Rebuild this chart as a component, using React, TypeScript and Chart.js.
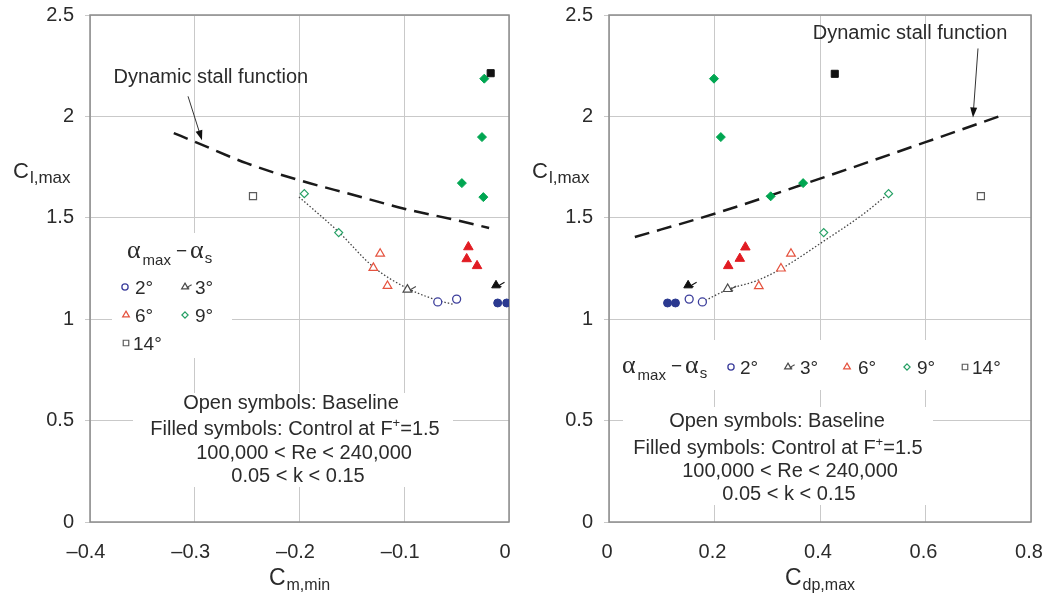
import React, { useEffect, useRef } from 'react';
import { Chart, registerables } from 'chart.js';

Chart.register(...registerables);

const SANS = "'Liberation Sans', Arial, Helvetica, sans-serif";
const SERIF = "'Liberation Serif', 'Times New Roman', serif";
const TEXT = '#2b2b2b';
const GRID = '#c9c9c9';

// ---------------- Left panel: C_l,max vs C_m,min ----------------
const cmTicksX = [-0.4, -0.3, -0.2, -0.1, 0];
const clTicksY = [0, 0.5, 1, 1.5, 2, 2.5];

const cmOpen2X = [-0.068, -0.05];
const cmOpen2Y = [1.085, 1.099];
const cmOpen3X = [-0.097];
const cmOpen3Y = [1.146];
const cmOpen6X = [-0.123, -0.1295, -0.116];
const cmOpen6Y = [1.323, 1.253, 1.164];
const cmOpen9X = [-0.1954, -0.1626];
const cmOpen9Y = [1.619, 1.427];
const cmOpen14X = [-0.2444];
const cmOpen14Y = [1.607];
const cmFill2X = [-0.0108, -0.0022];
const cmFill2Y = [1.08, 1.08];
const cmFill3X = [-0.0124];
const cmFill3Y = [1.167];
const cmFill6X = [-0.0388, -0.0404, -0.0305];
const cmFill6Y = [1.356, 1.297, 1.263];
const cmFill9X = [-0.0236, -0.0258, -0.045, -0.0245];
const cmFill9Y = [2.186, 1.898, 1.671, 1.602];
const cmFill14X = [-0.0175];
const cmFill14Y = [2.213];
const cmStallX = [-0.32, -0.3, -0.25, -0.2, -0.15, -0.1, -0.05, -0.019];
const cmStallY = [1.918, 1.875, 1.768, 1.685, 1.615, 1.545, 1.488, 1.45];
const cmBaseX = [-0.2005, -0.1626, -0.1295, -0.097, -0.068, -0.0537];
const cmBaseY = [1.603, 1.43, 1.258, 1.152, 1.093, 1.074];

// ---------------- Right panel: C_l,max vs C_dp,max ----------------
const cdTicksX = [0, 0.2, 0.4, 0.6, 0.8];

const cdOpen2X = [0.152, 0.177];
const cdOpen2Y = [1.099, 1.085];
const cdOpen3X = [0.225];
const cdOpen3Y = [1.149];
const cdOpen6X = [0.345, 0.326, 0.284];
const cdOpen6Y = [1.323, 1.25, 1.163];
const cdOpen9X = [0.407, 0.53];
const cdOpen9Y = [1.427, 1.619];
const cdOpen14X = [0.705];
const cdOpen14Y = [1.607];
const cdFill2X = [0.111, 0.126];
const cdFill2Y = [1.08, 1.08];
const cdFill3X = [0.15];
const cdFill3Y = [1.167];
const cdFill6X = [0.226, 0.248, 0.2585];
const cdFill6Y = [1.263, 1.299, 1.355];
const cdFill9X = [0.199, 0.212, 0.3065, 0.368];
const cdFill9Y = [2.186, 1.898, 1.606, 1.671];
const cdFill14X = [0.428];
const cdFill14Y = [2.21];
const cdStallX = [0.049, 0.2, 0.4, 0.6, 0.75];
const cdStallY = [1.405, 1.52, 1.693, 1.873, 2.01];
const cdBaseX = [0.177, 0.225, 0.28, 0.326, 0.41, 0.483, 0.53];
const cdBaseY = [1.085, 1.146, 1.19, 1.248, 1.39, 1.52, 1.619];

const legendLabels = ['2°', '3°', '6°', '9°', '14°'];

type MStyle = { shape: string; r: number; stroke: string; fill: string; bw: number; tail?: boolean };
const MK: Record<string, MStyle> = {
  o2: { shape: 'circle', r: 4, stroke: '#3d3f9c', fill: '#ffffff', bw: 1.3 },
  o3: { shape: 'triangle', r: 5, stroke: '#4a4a4a', fill: '#ffffff', bw: 1.2, tail: true },
  o6: { shape: 'triangle', r: 5, stroke: '#e5533f', fill: '#ffffff', bw: 1.2 },
  o9: { shape: 'rectRot', r: 4, stroke: '#26a065', fill: '#ffffff', bw: 1.2 },
  o14: { shape: 'rect', r: 5, stroke: '#5c5c5c', fill: '#ffffff', bw: 1.2 },
  f2: { shape: 'circle', r: 4, stroke: '#2b3990', fill: '#2b3990', bw: 1 },
  f3: { shape: 'triangle', r: 5, stroke: '#111111', fill: '#111111', bw: 1, tail: true },
  f6: { shape: 'triangle', r: 5.5, stroke: '#e11b22', fill: '#e11b22', bw: 1 },
  f9: { shape: 'rectRot', r: 4.5, stroke: '#00a651', fill: '#00a651', bw: 1 },
  f14: { shape: 'rect', r: 5, stroke: '#111111', fill: '#111111', bw: 1 },
};

const fmt = (v: number) => (v < 0 ? '–' : '') + String(Math.round(Math.abs(v) * 100) / 100);

function pts(xs: number[], ys: number[]) {
  return xs.map((x, i) => ({ x, y: ys[i] }));
}

function markerDs(xs: number[], ys: number[], key: string) {
  const s = MK[key];
  return {
    data: pts(xs, ys),
    showLine: false,
    pointStyle: s.shape,
    pointRadius: s.r,
    pointHoverRadius: s.r,
    pointBorderWidth: s.bw,
    pointBorderColor: s.stroke,
    pointBackgroundColor: s.fill,
    borderColor: s.stroke,
    backgroundColor: s.fill,
    order: 0,
    _mk: key,
  };
}

function lineDs(xs: number[], ys: number[], dash: number[], width: number, color: string) {
  return {
    data: pts(xs, ys),
    showLine: true,
    pointRadius: 0,
    pointHoverRadius: 0,
    borderColor: color,
    borderWidth: width,
    borderDash: dash,
    cubicInterpolationMode: 'monotone',
    fill: false,
    order: 10,
  };
}

type Seg = { t: string; font: string; dy?: number; gap?: number };

function rich(ctx: CanvasRenderingContext2D, segs: Seg[], x: number, y: number, align: 'left' | 'center' = 'left') {
  ctx.save();
  ctx.fillStyle = TEXT;
  ctx.textBaseline = 'alphabetic';
  ctx.textAlign = 'left';
  const widths = segs.map((s) => {
    ctx.font = s.font;
    return ctx.measureText(s.t).width + (s.gap || 0);
  });
  const total = widths.reduce((a, b) => a + b, 0);
  let cx = align === 'center' ? x - total / 2 : x;
  segs.forEach((s, i) => {
    ctx.font = s.font;
    ctx.fillText(s.t, cx + (s.gap || 0), y + (s.dy || 0));
    cx += widths[i];
  });
  ctx.restore();
}

function drawMarker(ctx: CanvasRenderingContext2D, s: MStyle, x: number, y: number, r: number) {
  ctx.save();
  ctx.beginPath();
  if (s.shape === 'circle') {
    ctx.arc(x, y, r, 0, Math.PI * 2);
  } else if (s.shape === 'triangle') {
    ctx.moveTo(x, y - r);
    ctx.lineTo(x + 0.866 * r, y + 0.5 * r);
    ctx.lineTo(x - 0.866 * r, y + 0.5 * r);
    ctx.closePath();
  } else if (s.shape === 'rectRot') {
    ctx.moveTo(x, y - r);
    ctx.lineTo(x + r, y);
    ctx.lineTo(x, y + r);
    ctx.lineTo(x - r, y);
    ctx.closePath();
  } else {
    const h = r * Math.SQRT1_2;
    ctx.rect(x - h, y - h, 2 * h, 2 * h);
  }
  ctx.fillStyle = s.fill;
  ctx.fill();
  ctx.lineWidth = s.bw;
  ctx.strokeStyle = s.stroke;
  ctx.stroke();
  if (s.tail) drawTail(ctx, x, y, r, s.stroke);
  ctx.restore();
}

function drawTail(ctx: CanvasRenderingContext2D, x: number, y: number, r: number, color: string) {
  ctx.save();
  ctx.strokeStyle = color;
  ctx.lineWidth = 1.1;
  ctx.beginPath();
  ctx.moveTo(x + 0.5 * r, y + 0.1 * r);
  ctx.lineTo(x + 1.7 * r, y - 0.6 * r);
  ctx.moveTo(x + 0.5 * r, y + 0.1 * r);
  ctx.lineTo(x + 1.1 * r, y + 0.3 * r);
  ctx.stroke();
  ctx.restore();
}

function arrow(ctx: CanvasRenderingContext2D, x0: number, y0: number, x1: number, y1: number) {
  const ang = Math.atan2(y1 - y0, x1 - x0);
  const L = 10;
  const W = 3.5;
  ctx.save();
  ctx.strokeStyle = '#333';
  ctx.fillStyle = '#111';
  ctx.lineWidth = 1;
  ctx.beginPath();
  ctx.moveTo(x0, y0);
  ctx.lineTo(x1 - Math.cos(ang) * L * 0.8, y1 - Math.sin(ang) * L * 0.8);
  ctx.stroke();
  ctx.beginPath();
  ctx.moveTo(x1, y1);
  ctx.lineTo(x1 - Math.cos(ang) * L - Math.sin(ang) * W, y1 - Math.sin(ang) * L + Math.cos(ang) * W);
  ctx.lineTo(x1 - Math.cos(ang) * L + Math.sin(ang) * W, y1 - Math.sin(ang) * L - Math.cos(ang) * W);
  ctx.closePath();
  ctx.fill();
  ctx.restore();
}

type LegendItem = { key: string; label: string; dx: number; dy: number; tx: number };
type Panel = {
  boxes: number[][];
  xSub: string;
  stallText: [number, number];
  stallArrow: [number, number, number, number];
  legendTitle: [number, number];
  legendItems: LegendItem[];
  notes: [number, number][];
};

const notesText: Seg[][] = [
  [{ t: 'Open symbols: Baseline', font: `20px ${SANS}` }],
  [
    { t: 'Filled symbols: Control at F', font: `20px ${SANS}` },
    { t: '+', font: `13px ${SANS}`, dy: -8 },
    { t: '=1.5', font: `20px ${SANS}` },
  ],
  [{ t: '100,000 < Re < 240,000', font: `20px ${SANS}` }],
  [{ t: '0.05 < k < 0.15', font: `20px ${SANS}` }],
];

function decor(p: Panel) {
  return {
    id: 'decor',
    beforeDatasetsDraw(chart: any) {
      const { ctx, chartArea: a } = chart;
      ctx.save();
      ctx.fillStyle = '#ffffff';
      p.boxes.forEach((b) => ctx.fillRect(a.left + b[0], a.top + b[1], b[2], b[3]));
      ctx.strokeStyle = '#8c8c8c';
      ctx.lineWidth = 1.5;
      ctx.strokeRect(a.left, a.top, a.right - a.left, a.bottom - a.top);
      ctx.restore();
    },
    afterDatasetsDraw(chart: any) {
      const { ctx, chartArea: a, scales } = chart;
      const sx = (v: number) => scales.x.getPixelForValue(v);
      const sy = (v: number) => scales.y.getPixelForValue(v);

      // tails on 3-degree symbols
      chart.data.datasets.forEach((ds: any, i: number) => {
        const m = ds._mk && MK[ds._mk];
        if (!m || !m.tail) return;
        chart.getDatasetMeta(i).data.forEach((el: any) => drawTail(ctx, el.x, el.y, m.r, m.stroke));
      });

      // Dynamic stall function label + arrow
      ctx.save();
      ctx.font = `20px ${SANS}`;
      ctx.fillStyle = TEXT;
      ctx.textAlign = 'center';
      ctx.textBaseline = 'middle';
      ctx.fillText('Dynamic stall function', sx(p.stallText[0]), sy(p.stallText[1]));
      ctx.restore();
      const [ax0, ay0, ax1, ay1] = p.stallArrow;
      arrow(ctx, sx(ax0), sy(ay0), sx(ax1), sy(ay1));

      // Legend
      const [tx, ty] = p.legendTitle;
      rich(
        ctx,
        [
          { t: 'α', font: `26px ${SERIF}` },
          { t: 'max', font: `15px ${SANS}`, dy: 7, gap: 2 },
          { t: '−', font: `19px ${SANS}`, dy: -1, gap: 5 },
          { t: 'α', font: `26px ${SERIF}`, gap: 3 },
          { t: 's', font: `15px ${SANS}`, dy: 5, gap: 1 },
        ],
        a.left + tx,
        a.top + ty + 6
      );
      p.legendItems.forEach((it) => {
        const m = MK[it.key];
        drawMarker(ctx, m, a.left + it.dx, a.top + it.dy, m.r * 0.78);
        rich(ctx, [{ t: it.label, font: `19px ${SANS}` }], a.left + it.tx, a.top + it.dy + 6.5);
      });

      // Notes
      p.notes.forEach(([nx, ny], i) => rich(ctx, notesText[i], a.left + nx, a.top + ny + 7, 'center'));

      // Axis titles
      const cx = (a.left + a.right) / 2;
      rich(ctx, [{ t: 'C', font: `23px ${SANS}` }, { t: p.xSub, font: `16px ${SANS}`, dy: 5, gap: 1 }], cx, a.bottom + 63, 'center');
      rich(ctx, [{ t: 'C', font: `22px ${SANS}` }, { t: 'l,max', font: `17px ${SANS}`, dy: 5, gap: 1 }], a.left - 77, a.top + 163);
    },
  };
}

function makeConfig(
  markers: any[],
  lines: any[],
  xMin: number,
  xMax: number,
  xTicks: number[],
  padRight: number,
  yWidth: number,
  xLabelShift: number,
  panel: Panel
) {
  return {
    type: 'scatter' as const,
    data: { datasets: [...markers, ...lines] },
    options: {
      animation: false as const,
      responsive: false,
      maintainAspectRatio: false,
      events: [],
      layout: { padding: { left: 0, right: padRight, top: 15, bottom: 0 } },
      plugins: { legend: { display: false }, tooltip: { enabled: false } },
      scales: {
        x: {
          type: 'linear' as const,
          min: xMin,
          max: xMax,
          afterBuildTicks: (s: any) => {
            s.ticks = xTicks.map((value) => ({ value }));
          },
          ticks: {
            callback: (v: any) => fmt(Number(v)),
            font: { family: SANS, size: 20, lineHeight: 2.7 },
            color: TEXT,
            padding: 3,
            labelOffset: xLabelShift,
            maxRotation: 0,
            autoSkip: false,
          },
          grid: { color: GRID, lineWidth: 1, drawTicks: false, tickLength: 0 },
          border: { display: false },
          afterFit: (s: any) => {
            s.height = 74;
          },
        },
        y: {
          type: 'linear' as const,
          min: 0,
          max: 2.5,
          afterBuildTicks: (s: any) => {
            s.ticks = clTicksY.map((value) => ({ value }));
          },
          ticks: {
            callback: (v: any) => fmt(Number(v)),
            font: { family: SANS, size: 20, lineHeight: 0.3 },
            color: TEXT,
            padding: 11,
            autoSkip: false,
          },
          grid: { color: GRID, lineWidth: 1, drawTicks: true, tickLength: 5 },
          border: { display: false },
          afterFit: (s: any) => {
            s.width = yWidth;
          },
        },
      },
    },
    plugins: [decor(panel)],
  };
}

const leftPanel: Panel = {
  boxes: [
    [22, 218, 120, 125],
    [43, 378, 320, 94],
  ],
  xSub: 'm,min',
  stallText: [-0.2846, 2.192],
  stallArrow: [-0.3064, 2.099, -0.2931, 1.882],
  legendTitle: [37, 237],
  legendItems: [
    { key: 'o2', label: legendLabels[0], dx: 35, dy: 272, tx: 45 },
    { key: 'o3', label: legendLabels[1], dx: 95, dy: 272, tx: 105 },
    { key: 'o6', label: legendLabels[2], dx: 36, dy: 300, tx: 45 },
    { key: 'o9', label: legendLabels[3], dx: 95, dy: 300, tx: 105 },
    { key: 'o14', label: legendLabels[4], dx: 36, dy: 328, tx: 43 },
  ],
  notes: [
    [201, 387],
    [205, 413],
    [214, 437],
    [208, 460],
  ],
};

const rightPanel: Panel = {
  boxes: [
    [3, 325, 408, 50],
    [14, 392, 310, 98],
  ],
  xSub: 'dp,max',
  stallText: [0.5706, 2.409],
  stallArrow: [0.6995, 2.335, 0.69, 1.995],
  legendTitle: [13, 352],
  legendItems: [
    { key: 'o2', label: legendLabels[0], dx: 122, dy: 352, tx: 131 },
    { key: 'o3', label: legendLabels[1], dx: 179, dy: 352, tx: 191 },
    { key: 'o6', label: legendLabels[2], dx: 238, dy: 352, tx: 249 },
    { key: 'o9', label: legendLabels[3], dx: 298, dy: 352, tx: 308 },
    { key: 'o14', label: legendLabels[4], dx: 356, dy: 352, tx: 363 },
  ],
  notes: [
    [168, 405],
    [169, 432],
    [181, 455],
    [180, 478],
  ],
};

const leftConfig = () =>
  makeConfig(
    [
      markerDs(cmOpen2X, cmOpen2Y, 'o2'),
      markerDs(cmOpen3X, cmOpen3Y, 'o3'),
      markerDs(cmOpen6X, cmOpen6Y, 'o6'),
      markerDs(cmOpen9X, cmOpen9Y, 'o9'),
      markerDs(cmOpen14X, cmOpen14Y, 'o14'),
      markerDs(cmFill2X, cmFill2Y, 'f2'),
      markerDs(cmFill3X, cmFill3Y, 'f3'),
      markerDs(cmFill6X, cmFill6Y, 'f6'),
      markerDs(cmFill9X, cmFill9Y, 'f9'),
      markerDs(cmFill14X, cmFill14Y, 'f14'),
    ],
    [lineDs(cmStallX, cmStallY, [15, 8], 2.5, '#1a1a1a'), lineDs(cmBaseX, cmBaseY, [1.5, 2], 1.3, '#444444')],
    -0.4,
    0,
    cmTicksX,
    21,
    90,
    -4,
    leftPanel
  );

const rightConfig = () =>
  makeConfig(
    [
      markerDs(cdOpen2X, cdOpen2Y, 'o2'),
      markerDs(cdOpen3X, cdOpen3Y, 'o3'),
      markerDs(cdOpen6X, cdOpen6Y, 'o6'),
      markerDs(cdOpen9X, cdOpen9Y, 'o9'),
      markerDs(cdOpen14X, cdOpen14Y, 'o14'),
      markerDs(cdFill2X, cdFill2Y, 'f2'),
      markerDs(cdFill3X, cdFill3Y, 'f3'),
      markerDs(cdFill6X, cdFill6Y, 'f6'),
      markerDs(cdFill9X, cdFill9Y, 'f9'),
      markerDs(cdFill14X, cdFill14Y, 'f14'),
    ],
    [lineDs(cdStallX, cdStallY, [15, 8], 2.5, '#1a1a1a'), lineDs(cdBaseX, cdBaseY, [1.5, 2], 1.3, '#444444')],
    0,
    0.8,
    cdTicksX,
    17,
    79,
    -2,
    rightPanel
  );

function PanelChart({ make, width, left }: { make: () => any; width: number; left: number }) {
  const ref = useRef<HTMLCanvasElement>(null);
  useEffect(() => {
    const chart = new Chart(ref.current as HTMLCanvasElement, make());
    return () => chart.destroy();
  }, []);
  return (
    <canvas
      ref={ref}
      width={width}
      height={596}
      style={{ position: 'absolute', left, top: 0, width, height: 596, display: 'block' }}
    />
  );
}

export default function App() {
  useEffect(() => {
    document.body.style.margin = '0';
    document.body.style.background = '#ffffff';
  }, []);
  return (
    <div style={{ position: 'fixed', left: 0, top: 0, width: 1048, height: 596, background: '#ffffff', overflow: 'hidden' }}>
      <PanelChart make={leftConfig} width={530} left={0} />
      <PanelChart make={rightConfig} width={518} left={530} />
    </div>
  );
}
